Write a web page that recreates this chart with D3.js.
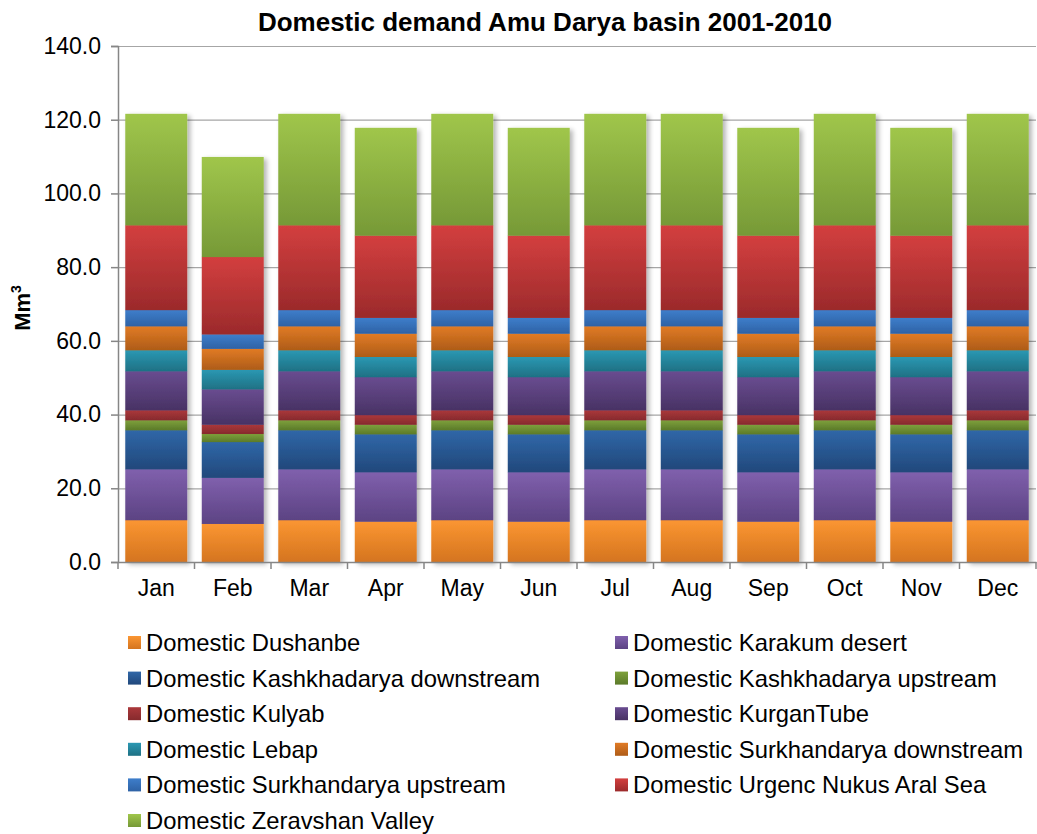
<!DOCTYPE html>
<html><head><meta charset="utf-8">
<script src="https://cdn.jsdelivr.net/npm/d3@7"></script>
<style>body{margin:0;background:#fff;font-family:"Liberation Sans",Arial,sans-serif;}</style>
</head><body>
<svg id="c" width="1037" height="834"></svg>
<script>
const months = ["Jan","Feb","Mar","Apr","May","Jun","Jul","Aug","Sep","Oct","Nov","Dec"];
const seriesNames = ["Domestic Dushanbe","Domestic Karakum desert","Domestic Kashkhadarya downstream","Domestic Kashkhadarya upstream","Domestic Kulyab","Domestic KurganTube","Domestic Lebap","Domestic Surkhandarya downstream","Domestic Surkhandarya upstream","Domestic Urgenc Nukus Aral Sea","Domestic Zeravshan Valley"];
const dushanbe   = [11.4,10.4,11.4,11.0,11.4,11.0,11.4,11.4,11.0,11.4,11.0,11.4];
const karakum    = [13.8,12.5,13.8,13.4,13.8,13.4,13.8,13.8,13.4,13.8,13.4,13.8];
const kashkDown  = [10.6, 9.7,10.6,10.3,10.6,10.3,10.6,10.6,10.3,10.6,10.3,10.6];
const kashkUp    = [ 2.7, 2.2, 2.7, 2.6, 2.7, 2.6, 2.7, 2.7, 2.6, 2.7, 2.6, 2.7];
const kulyab     = [ 2.7, 2.5, 2.7, 2.6, 2.7, 2.6, 2.7, 2.7, 2.6, 2.7, 2.6, 2.7];
const kurganTube = [10.6, 9.6,10.6,10.3,10.6,10.3,10.6,10.6,10.3,10.6,10.3,10.6];
const lebap      = [ 5.7, 5.3, 5.7, 5.5, 5.7, 5.5, 5.7, 5.7, 5.5, 5.7, 5.5, 5.7];
const surkDown   = [ 6.5, 5.7, 6.5, 6.3, 6.5, 6.3, 6.5, 6.5, 6.3, 6.5, 6.3, 6.5];
const surkUp     = [ 4.4, 3.9, 4.4, 4.3, 4.4, 4.3, 4.4, 4.4, 4.3, 4.4, 4.3, 4.4];
const urgenc     = [23.0,21.0,23.0,22.3,23.0,22.3,23.0,23.0,22.3,23.0,22.3,23.0];
const zeravshan  = [30.2,27.1,30.2,29.2,30.2,29.2,30.2,30.2,29.2,30.2,29.2,30.2];
const yTicks = [0,20,40,60,80,100,120,140];

const seriesValues = [dushanbe,karakum,kashkDown,kashkUp,kulyab,kurganTube,lebap,surkDown,surkUp,urgenc,zeravshan];
const colors = [
 ["#fb9632","#d4741f"],["#8060ad","#5c4383"],["#3067a8","#21487b"],["#7ea13c","#5b7a29"],
 ["#ab383b","#862a2d"],["#694c90","#483264"],["#2b98b3","#1e7184"],["#e17b25","#ae5c18"],
 ["#3e7ecb","#2e62a5"],["#d33f3f","#9b2a2b"],["#a0c64b","#769937"]
];
const FONT = "Liberation Sans, Arial, sans-serif";

const svg = d3.select("#c");
const m = {l:118, r:1036, t:46, b:562};
const x = d3.scaleBand().domain(months).range([m.l,m.r]).paddingInner(0.19).paddingOuter(0.095);
const y = d3.scaleLinear().domain([0,140]).range([m.b,m.t]);

const defs = svg.append("defs");
colors.forEach((c,i)=>{
  const g = defs.append("linearGradient").attr("id","g"+i).attr("x1",0).attr("y1",0).attr("x2",0).attr("y2",1);
  g.append("stop").attr("offset","0%").attr("stop-color",c[0]);
  g.append("stop").attr("offset","100%").attr("stop-color",c[1]);
});
const f = defs.append("filter").attr("id","sh").attr("x","-10%").attr("y","-10%").attr("width","130%").attr("height","130%");
f.append("feGaussianBlur").attr("in","SourceAlpha").attr("stdDeviation",2.5).attr("result","b");
f.append("feOffset").attr("in","b").attr("dx",3).attr("dy",2).attr("result","o");
f.append("feComponentTransfer").attr("in","o").attr("result","o2").append("feFuncA").attr("type","linear").attr("slope",0.3);
const fm = f.append("feMerge"); fm.append("feMergeNode").attr("in","o2"); fm.append("feMergeNode").attr("in","SourceGraphic");

// gridlines
svg.append("g").selectAll("line").data(yTicks.filter(d=>d>0)).join("line")
  .attr("x1",m.l).attr("x2",m.r).attr("y1",d=>y(d)+0.5).attr("y2",d=>y(d)+0.5)
  .attr("stroke","#a6a6a6").attr("stroke-width",1.2);

// stacked data
const table = months.map((mo,j)=>{const o={month:mo}; seriesNames.forEach((s,i)=>o[s]=seriesValues[i][j]); return o;});
const stack = d3.stack().keys(seriesNames)(table);

const bars = svg.append("g");
months.forEach((mo,j)=>{
  const g = bars.append("g").attr("filter","url(#sh)");
  stack.forEach((layer,i)=>{
    const d = layer[j];
    g.append("rect").attr("x",x(mo)).attr("width",x.bandwidth())
      .attr("y",y(d[1])).attr("height",y(d[0])-y(d[1])+0.3)
      .attr("fill","url(#g"+i+")");
  });
});

// axes
const ya = svg.append("g").attr("transform",`translate(${m.l},0)`)
  .call(d3.axisLeft(y).tickValues(yTicks).tickFormat(d3.format(".1f")).tickSize(7).tickPadding(10));
ya.select(".domain").attr("stroke","#868686").attr("stroke-width",1.5);
ya.selectAll(".tick line").attr("stroke","#868686").attr("stroke-width",1.5);
ya.selectAll("text").attr("font-size",23).attr("fill","#000").attr("font-family",FONT);

const xa = svg.append("g").attr("transform",`translate(0,${m.b})`)
  .call(d3.axisBottom(x).tickSize(0).tickPadding(18));
xa.select(".domain").attr("stroke","#868686").attr("stroke-width",1.5);
xa.selectAll("text").attr("font-size",23).attr("fill","#000").attr("font-family",FONT);
// category separator ticks
const step = x.step();
xa.append("g").selectAll("line").data(d3.range(13)).join("line")
  .attr("x1",d=>m.l+d*step).attr("x2",d=>m.l+d*step).attr("y1",0).attr("y2",7)
  .attr("stroke","#868686").attr("stroke-width",1.5);

// title
svg.append("text").attr("x",545).attr("y",31).attr("text-anchor","middle").attr("font-family",FONT)
  .attr("font-size",26).attr("font-weight","bold").text("Domestic demand Amu Darya basin 2001-2010");
// y label
const yl = svg.append("text").attr("transform","translate(30,308) rotate(-90)").attr("text-anchor","middle")
  .attr("font-family",FONT).attr("font-size",22).attr("font-weight","bold");
yl.append("tspan").text("Mm");
yl.append("tspan").attr("font-size",14).attr("dy",-9).text("3");

// legend
const leg = svg.append("g");
seriesNames.forEach((s,i)=>{
  const col = i%2, row = Math.floor(i/2);
  const lx = col===0 ? 128 : 615, ly = 643 + row*35.6;
  leg.append("rect").attr("x",lx).attr("y",ly-7).attr("width",13).attr("height",13).attr("fill","url(#g"+i+")");
  leg.append("text").attr("x",lx+18).attr("y",ly+8).attr("font-family",FONT).attr("font-size",23.8).text(s);
});
</script>
</body></html>
